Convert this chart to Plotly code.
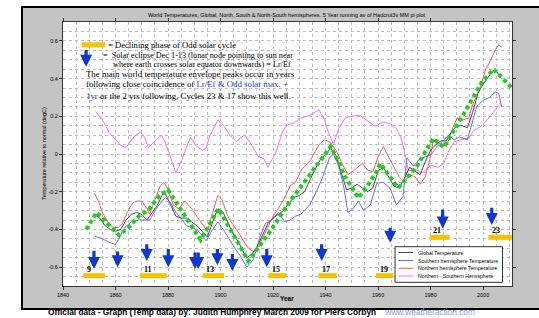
import plotly.graph_objects as go

# ---------------- data ----------------
global_years = [1852, 1854, 1856, 1858, 1860, 1862, 1864, 1866, 1868, 1870,
                1872, 1874, 1876, 1878, 1879, 1881, 1883, 1885, 1887, 1889,
                1891, 1893, 1895, 1897, 1899, 1901, 1903, 1905, 1907, 1909,
                1910, 1912, 1914, 1916, 1918, 1920, 1922, 1924, 1926, 1928,
                1930, 1932, 1934, 1936, 1938, 1940, 1942, 1944, 1946, 1948,
                1950, 1952, 1954, 1956, 1958, 1960, 1962, 1964, 1966, 1968,
                1970, 1972, 1974, 1976, 1978, 1980, 1982, 1984, 1986, 1988,
                1990, 1992, 1994, 1996, 1998, 2000, 2002, 2004, 2005, 2006]
global_temp = [-0.32, -0.34, -0.38, -0.40, -0.41, -0.40, -0.35, -0.32, -0.31, -0.32,
               -0.35, -0.31, -0.27, -0.21, -0.21, -0.27, -0.33, -0.34, -0.34, -0.36,
               -0.38, -0.41, -0.44, -0.36, -0.29, -0.31, -0.37, -0.43, -0.47, -0.53,
               -0.55, -0.53, -0.49, -0.43, -0.37, -0.34, -0.32, -0.30, -0.26, -0.23,
               -0.22, -0.20, -0.14, -0.08, -0.03, 0.00, 0.03, -0.01, -0.10, -0.19,
               -0.18, -0.16, -0.18, -0.20, -0.18, -0.09, -0.07, -0.12, -0.17, -0.18,
               -0.13, -0.07, -0.09, -0.11, -0.04, 0.02, 0.05, 0.07, 0.07, 0.12,
               0.15, 0.15, 0.14, 0.22, 0.32, 0.37, 0.41, 0.44, 0.44, 0.42]

nh_years = [1852, 1853.5, 1855, 1857, 1859, 1861, 1862.5, 1864.5, 1866.5, 1868,
            1870, 1872, 1873, 1875, 1877, 1878.5, 1880, 1882, 1884, 1886.5,
            1889, 1892, 1895, 1897, 1899, 1900.5, 1902.5, 1904, 1907, 1910,
            1912.5, 1914.5, 1917.5, 1920, 1922, 1924.5, 1926.5, 1928.5, 1931, 1934,
            1937.5, 1939.5, 1941.5, 1944, 1947, 1948.5, 1951, 1954, 1956, 1958,
            1960, 1962, 1964, 1966, 1968, 1970, 1972, 1974, 1976, 1978,
            1980, 1981, 1983.5, 1986, 1988.5, 1990, 1992, 1994.5, 1996, 1999,
            2001, 2003, 2004.5, 2006, 2007]
nh_temp = [-0.21, -0.25, -0.31, -0.36, -0.39, -0.39, -0.37, -0.31, -0.26, -0.25,
           -0.25, -0.29, -0.32, -0.24, -0.17, -0.15, -0.19, -0.27, -0.29, -0.25,
           -0.29, -0.35, -0.41, -0.31, -0.22, -0.24, -0.32, -0.36, -0.42, -0.49,
           -0.52, -0.49, -0.40, -0.33, -0.29, -0.23, -0.17, -0.15, -0.08, -0.04,
           0.05, 0.075, 0.065, 0.02, -0.07, -0.11, -0.085, -0.05, -0.085, -0.095,
           -0.015, 0.04, -0.015, -0.07, -0.12, -0.15, -0.11, -0.12, -0.16, -0.12,
           -0.01, 0.07, 0.055, 0.04, 0.14, 0.19, 0.18, 0.19, 0.26, 0.36,
           0.45, 0.50, 0.55, 0.58, 0.565]

sh_years = [1852, 1855, 1858, 1860, 1861, 1863.5, 1866, 1869, 1873, 1876,
            1879, 1881, 1883, 1885, 1887, 1891, 1894.5, 1897, 1899, 1901.5,
            1905, 1907.5, 1910, 1912.5, 1915, 1917, 1919.5, 1922, 1924.5, 1926.5,
            1928.5, 1930.5, 1934, 1936.5, 1939, 1941.5, 1943, 1945, 1947, 1948.5,
            1950.5, 1952.5, 1954.5, 1957, 1959.5, 1962, 1964.5, 1967, 1969.5, 1971,
            1973.5, 1976, 1980, 1982.5, 1985, 1987, 1989, 1991, 1994, 1995.5,
            1997.5, 2000, 2002.5, 2004.5, 2006, 2007]
sh_temp = [-0.435, -0.45, -0.47, -0.48, -0.455, -0.39, -0.36, -0.35, -0.35, -0.28,
           -0.23, -0.26, -0.31, -0.34, -0.38, -0.40, -0.46, -0.40, -0.36, -0.41,
           -0.49, -0.54, -0.60, -0.56, -0.44, -0.37, -0.35, -0.31, -0.36, -0.35,
           -0.33, -0.32, -0.27, -0.20, -0.12, -0.02, 0.00, -0.06, -0.18, -0.31,
           -0.29, -0.25, -0.30, -0.27, -0.155, -0.15, -0.18, -0.27, -0.225, -0.02,
           -0.065, -0.025, -0.005, 0.04, 0.075, 0.10, 0.075, 0.09, 0.075, 0.145,
           0.25, 0.285, 0.30, 0.33, 0.32, 0.25]

ns_years = [1852.5, 1855.5, 1857.5, 1859.5, 1862, 1864, 1865.5, 1867.5, 1869.5, 1871,
            1872.5, 1875, 1877.5, 1879, 1881, 1883, 1885, 1888.5, 1890.5, 1893,
            1894.5, 1896, 1899, 1901.5, 1903.5, 1906, 1909, 1911, 1914.5, 1916.5,
            1918, 1921, 1923.5, 1925.5, 1928, 1930.5, 1934, 1937.5, 1939.5, 1941,
            1943, 1945, 1947.5, 1949.5, 1953, 1956.5, 1959, 1961.5, 1964.5, 1967,
            1969, 1970.5, 1971.5, 1974, 1977, 1980, 1983, 1985, 1987, 1989,
            1992, 1994.5, 1996.5, 1999.5, 2002.5, 2005, 2006.5]
ns_diff = [0.225, 0.17, 0.115, 0.085, 0.045, 0.035, 0.065, 0.10, 0.115, 0.09,
           0.035, 0.065, 0.10, 0.06, -0.02, -0.10, -0.04, 0.09, 0.045, 0.02,
           0.03, 0.10, 0.18, 0.145, 0.10, 0.065, 0.10, 0.065, -0.015, -0.025,
           -0.07, 0.005, 0.115, 0.155, 0.165, 0.19, 0.205, 0.235, 0.185, 0.12,
           0.05, 0.135, 0.19, 0.20, 0.205, 0.17, 0.145, 0.17, 0.16, 0.135,
           0.075, -0.02, -0.09, -0.08, -0.10, -0.06, -0.07, -0.05, 0.02, 0.065,
           0.075, 0.085, 0.125, 0.15, 0.195, 0.24, 0.27]

env_years = [1848.8, 1852.8, 1861.3, 1865, 1868.8, 1872.6, 1876.5, 1880, 1892.4, 1899.2,
             1910.6, 1918.9, 1926.5, 1942, 1944.9, 1947.4, 1950.6, 1952.5, 1955.7, 1959.5,
             1960.8, 1967.7, 1970.9, 1974.7, 1981, 1985, 1992.5, 1999.5, 2004, 2012]
env_temp = [-0.40, -0.31, -0.43, -0.39, -0.33, -0.295, -0.225, -0.19, -0.455, -0.29,
            -0.567, -0.41, -0.25, 0.04, -0.04, -0.12, -0.19, -0.233, -0.172, -0.093,
            -0.05, -0.18, -0.128, -0.067, 0.083, 0.035, 0.21, 0.38, 0.45, 0.335]

cycle_labels = ["9", "11", "13", "15", "17", "19", "21", "23"]
cycle_start = [1847.7, 1869.3, 1893.2, 1918.2, 1937.3, 1959.2, 1979.6, 2002.0]
cycle_end = [1856.0, 1879.5, 1901.4, 1925.0, 1944.3, 1965.8, 1987.2, 2010.9]
cycle_level = [-0.645, -0.645, -0.645, -0.645, -0.645, -0.645, -0.442, -0.442]

eclipse_years = [1851.8, 1860.8, 1871.9, 1880.1, 1890.3, 1891.5, 1898.8, 1904.5,
                 1917.6, 1938.5, 1964.6, 1984.6, 2003.3]
eclipse_tail = [-0.505, -0.509, -0.47, -0.496, -0.514, -0.514, -0.496, -0.523,
                -0.496, -0.47, -0.383, -0.286, -0.277]
eclipse_tip = [-0.61, -0.60, -0.567, -0.60, -0.61, -0.61, -0.59, -0.62,
               -0.60, -0.567, -0.47, -0.395, -0.376]

y_ticks = [0.6, 0.4, 0.2, 0, -0.2, -0.4, -0.6]
y_ticktext = ["0.6", "0.4", "0.2", "0", "-0.2", "-0.4", "-0.6"]
x_ticks = [1840, 1860, 1880, 1900, 1920, 1940, 1960, 1980, 2000]

legend_names = ["Global Temperature", "Southern hemisphere Temperature",
                "Northern hemisphere Temperature", "Northern - Southern Hemisphere"]

# ---------------- styling ----------------
C_GLOBAL = "#4a4a4a"
C_SH = "#6c6cff"
C_NH = "#ff5a5a"
C_NS = "#ff6bff"
C_ENV = "#22cc22"
C_BAR = "#ffc000"
C_ARROW = "#1038d0"
C_TXTBLUE = "#2a3fe0"

W, H = 539, 318
ML, MR, MT, MB = 63, 27, 22, 32
PW, PH = W - ML - MR, H - MT - MB


def px(xpix):
    return (xpix - ML) / PW


def py(ypix):
    return (H - MB - ypix) / PH


fig = go.Figure()

fig.add_trace(go.Scatter(x=ns_years, y=ns_diff, mode="lines",
                         line=dict(color=C_NS, width=1), name=legend_names[3]))
fig.add_trace(go.Scatter(x=sh_years, y=sh_temp, mode="lines",
                         line=dict(color=C_SH, width=1), name=legend_names[1]))
fig.add_trace(go.Scatter(x=nh_years, y=nh_temp, mode="lines",
                         line=dict(color=C_NH, width=1), name=legend_names[2]))
fig.add_trace(go.Scatter(x=global_years, y=global_temp, mode="lines",
                         line=dict(color=C_GLOBAL, width=1), name=legend_names[0]))
fig.add_trace(go.Scatter(x=env_years, y=env_temp, mode="lines",
                         line=dict(color=C_ENV, width=4, dash="4px,3px"),
                         name="envelope"))

# declining phase bars
bx, by = [], []
for s, e, lv in zip(cycle_start, cycle_end, cycle_level):
    bx += [s, e, None]
    by += [lv, lv, None]
fig.add_trace(go.Scatter(x=bx, y=by, mode="lines",
                         line=dict(color=C_BAR, width=5), name="bars"))
# legend-key bar in the text box
fig.add_trace(go.Scatter(x=[1847.1, 1856.0], y=[0.579, 0.579], mode="lines",
                         line=dict(color=C_BAR, width=5), name="key"))

annotations = []
for lab, s, lv in zip(cycle_labels, cycle_start, cycle_level):
    annotations.append(dict(x=s + 0.6, y=lv + 0.035, xref="x", yref="y",
                            text="<b>%s</b>" % lab, showarrow=False,
                            xanchor="left", yanchor="middle",
                            font=dict(family="Liberation Serif", size=8, color="black")))

for yr, t0, t1 in zip(eclipse_years, eclipse_tail, eclipse_tip):
    annotations.append(dict(x=yr, y=t1, ax=yr, ay=t0, xref="x", yref="y",
                            axref="x", ayref="y", text="", showarrow=True,
                            arrowhead=2, arrowsize=0.75, arrowwidth=3.2,
                            arrowcolor=C_ARROW))
# key arrow in text box
annotations.append(dict(x=1848.8, y=0.463, ax=1848.8, ay=0.56, xref="x", yref="y",
                        axref="x", ayref="y", text="", showarrow=True,
                        arrowhead=2, arrowsize=0.75, arrowwidth=3.2,
                        arrowcolor=C_ARROW))

serif = "Liberation Serif"
text_lines = [
    (106, 45, 8.6, "= Declining phase of Odd solar cycle"),
    (101, 55, 8.2, "=  Solar eclipse Dec 1-13 (lunar node pointing to sun near"),
    (111, 64.5, 8.2, "where earth crosses solar equator downwards) = Lr/Ef"),
    (84, 74, 8.8, "The main world temperature envelope peaks occur in years"),
    (84, 84.5, 8.8, "following close coincidence of <span style='color:%s'>Lr/Ef &amp; Odd solar max. +</span>" % C_TXTBLUE),
    (84, 95.5, 8.8, "<span style='color:%s'>1yr</span> or the 2 yrs following, Cycles 23 &amp; 17 show this well." % C_TXTBLUE),
]
for xp, yp, fs, t in text_lines:
    annotations.append(dict(x=px(xp), y=py(yp), xref="paper", yref="paper",
                            text=t, showarrow=False, xanchor="left", yanchor="middle",
                            font=dict(family=serif, size=fs, color="black")))

sans = "Liberation Sans"
annotations.append(dict(x=px(287), y=py(15), xref="paper", yref="paper",
                        text="World Temperatures, Global, North, South &amp; North-South hemispheres. 5 Year running av of Hadcrut3v MM pl plot",
                        showarrow=False, xanchor="center", yanchor="middle",
                        font=dict(family=sans, size=5.5, color="black")))
annotations.append(dict(x=px(44), y=0.5, xref="paper", yref="paper",
                        text="Temperature relative to normal (degC)", textangle=-90,
                        showarrow=False, xanchor="center", yanchor="middle",
                        font=dict(family=sans, size=5.5, color="black")))
annotations.append(dict(x=px(287), y=py(298), xref="paper", yref="paper",
                        text="<b>Year</b>", showarrow=False,
                        xanchor="center", yanchor="middle",
                        font=dict(family=sans, size=6.5, color="black")))
annotations.append(dict(x=px(47), y=py(318), xref="paper", yref="paper",
                        text="<b>Official data - Graph (Temp data) by: Judith Humphrey March 2009 for Piers Corbyn</b>    <span style='color:#8aa0d8'>www.weatheraction.com</span>",
                        showarrow=False, xanchor="left", yanchor="bottom", borderpad=0,
                        font=dict(family=sans, size=8.3, color="black")))

# legend box (manual, compact)
leg_rows = [252.5, 260.5, 268.3, 276]
leg_cols = [C_GLOBAL, C_SH, C_NH, C_NS]
shapes = [
    dict(type="rect", xref="paper", yref="paper", x0=px(22), x1=px(560),
         y0=py(309), y1=py(7), fillcolor="#c4c4c4",
         line=dict(color="black", width=2), layer="below"),
    dict(type="rect", xref="paper", yref="paper", x0=0, x1=1, y0=0, y1=1,
         fillcolor="white", line=dict(width=0), layer="below"),
    dict(type="rect", xref="paper", yref="paper", x0=px(395), x1=px(502.5),
         y0=py(282.3), y1=py(246.7), fillcolor="white",
         line=dict(color="#333333", width=1), layer="above"),
]
for r, c, n in zip(leg_rows, leg_cols, legend_names):
    shapes.append(dict(type="line", xref="paper", yref="paper", x0=px(398.5), x1=px(413),
                       y0=py(r), y1=py(r), line=dict(color=c, width=1), layer="above"))
    annotations.append(dict(x=px(415.5), y=py(r), xref="paper", yref="paper", text=n,
                            showarrow=False, xanchor="left", yanchor="middle",
                            font=dict(family=sans, size=5.2, color="black")))

grid = dict(showgrid=True, gridcolor="#bdbdbd", griddash="dot", gridwidth=1)
fig.update_layout(
    width=W, height=H, margin=dict(l=ML, r=MR, t=MT, b=MB),
    paper_bgcolor="white", plot_bgcolor="rgba(0,0,0,0)",
    showlegend=False, shapes=shapes, annotations=annotations,
    xaxis=dict(range=[1840, 2011], tickvals=x_ticks, ticks="outside", ticklen=3,
               tickcolor="#333", showline=True, mirror="ticks", linecolor="#333",
               linewidth=1, zeroline=False,
               tickfont=dict(family=sans, size=5.5, color="black"),
               minor=dict(dtick=5, showgrid=True, gridcolor="#bdbdbd", griddash="dot"),
               **grid),
    yaxis=dict(range=[-0.7, 0.7], tickvals=y_ticks, ticktext=y_ticktext,
               ticks="outside", ticklen=3, tickcolor="#333", showline=True,
               mirror="ticks", linecolor="#333", linewidth=1, zeroline=False,
               tickfont=dict(family=sans, size=5.5, color="black"),
               minor=dict(dtick=0.05, tick0=0, showgrid=True, gridcolor="#bdbdbd",
                          griddash="dot"),
               **grid),
)

# remove the browser's default 8px body margin so the figure sits at the page origin
fig.write_html("out.html", config={"displayModeBar": False},
               post_script="document.body.style.margin='0px';")
